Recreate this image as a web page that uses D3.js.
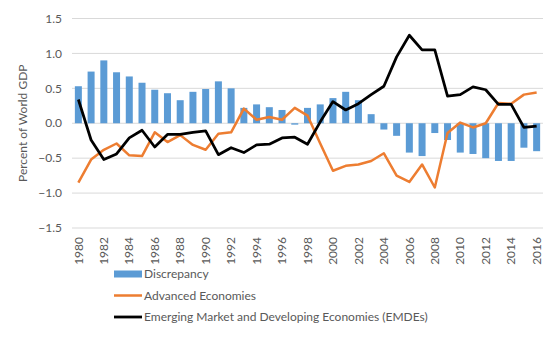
<!DOCTYPE html>
<html>
<head>
<meta charset="utf-8">
<script src="https://cdn.jsdelivr.net/npm/d3@7"></script>
<style>
  body { margin: 0; background: #fff; }
  text { font-family: Lato, "Liberation Sans", sans-serif; fill: #595959; }
</style>
</head>
<body>
<div id="chart"></div>
<script>
var years = d3.range(1980, 2017);
var tickYears = d3.range(1980, 2017, 2);
var yTicks = [-1.5, -1.0, -0.5, 0.0, 0.5, 1.0, 1.5];

var discrepancy = [0.53, 0.74, 0.90, 0.73, 0.67, 0.58, 0.48, 0.43, 0.33, 0.45,
                   0.49, 0.60, 0.50, 0.22, 0.27, 0.23, 0.19, -0.02, 0.22, 0.27,
                   0.36, 0.45, 0.33, 0.13, -0.09, -0.18, -0.42, -0.47, -0.14, -0.24,
                   -0.42, -0.44, -0.50, -0.54, -0.54, -0.35, -0.40];
var advanced = [-0.85, -0.52, -0.38, -0.29, -0.46, -0.47, -0.13, -0.27, -0.17, -0.31,
                -0.38, -0.15, -0.13, 0.21, 0.05, 0.09, 0.05, 0.22, 0.11, -0.29,
                -0.68, -0.61, -0.59, -0.54, -0.43, -0.75, -0.84, -0.59, -0.92, -0.14,
                0.01, -0.06, 0.00, 0.29, 0.28, 0.41, 0.44];
var emdes = [0.34, -0.24, -0.52, -0.44, -0.21, -0.10, -0.34, -0.16, -0.16, -0.13,
             -0.11, -0.45, -0.35, -0.42, -0.31, -0.30, -0.21, -0.20, -0.30, 0.02,
             0.31, 0.19, 0.28, 0.41, 0.53, 0.95, 1.26, 1.05, 1.05, 0.39,
             0.41, 0.52, 0.48, 0.27, 0.27, -0.06, -0.04];

var seriesNames = ["Discrepancy", "Advanced Economies", "Emerging Market and Developing Economies (EMDEs)"];
var colors = ["#5B9BD5", "#ED7D31", "#000000"];

var width = 557, height = 341;
var margin = {left: 72, right: 14, top: 18.5, bottom: 113};

var svg = d3.select("#chart").append("svg")
    .attr("width", width)
    .attr("height", height);

var x = d3.scaleBand()
    .domain(years)
    .range([margin.left, width - margin.right])
    .paddingInner(0.45)
    .paddingOuter(0.225);

var y = d3.scaleLinear()
    .domain([-1.5, 1.5])
    .range([height - margin.bottom, margin.top]);

// gridlines
svg.append("g")
    .selectAll("line")
    .data(yTicks)
    .enter().append("line")
    .attr("x1", margin.left)
    .attr("x2", width - margin.right)
    .attr("y1", function(d) { return y(d); })
    .attr("y2", function(d) { return y(d); })
    .attr("stroke", "#d9d9d9")
    .attr("stroke-width", 1);

// y tick labels
svg.append("g")
    .selectAll("text")
    .data(yTicks)
    .enter().append("text")
    .attr("x", 62)
    .attr("y", function(d) { return y(d); })
    .attr("dy", "0.35em")
    .attr("text-anchor", "end")
    .style("font-size", "12px")
    .text(function(d) { return d3.format(".1f")(d); });

// y axis title
svg.append("text")
    .attr("transform", "translate(27," + y(0) + ") rotate(-90)")
    .attr("text-anchor", "middle")
    .style("font-size", "12px")
    .text("Percent of World GDP");

// bars
svg.append("g")
    .selectAll("rect")
    .data(discrepancy)
    .enter().append("rect")
    .attr("x", function(d, i) { return x(years[i]); })
    .attr("width", x.bandwidth())
    .attr("y", function(d) { return y(Math.max(0, d)); })
    .attr("height", function(d) { return Math.abs(y(d) - y(0)); })
    .attr("fill", colors[0]);

var line = d3.line()
    .x(function(d, i) { return x(years[i]) + x.bandwidth() / 2; })
    .y(function(d) { return y(d); });

svg.append("path")
    .datum(advanced)
    .attr("d", line)
    .attr("fill", "none")
    .attr("stroke", colors[1])
    .attr("stroke-width", 2.5)
    .attr("stroke-linejoin", "round");

svg.append("path")
    .datum(emdes)
    .attr("d", line)
    .attr("fill", "none")
    .attr("stroke", colors[2])
    .attr("stroke-width", 2.75)
    .attr("stroke-linejoin", "round");

// x tick labels, rotated
svg.append("g")
    .selectAll("text")
    .data(tickYears)
    .enter().append("text")
    .attr("transform", function(d) {
        return "translate(" + (x(d) + x.bandwidth() / 2) + "," + 237 + ") rotate(-90)";
    })
    .attr("dy", "0.35em")
    .attr("text-anchor", "end")
    .style("font-size", "12px")
    .text(function(d) { return d; });

// legend
var legend = svg.append("g")
    .selectAll("g")
    .data(seriesNames)
    .enter().append("g")
    .attr("transform", function(d, i) { return "translate(114," + (274 + i * 21.5) + ")"; });

legend.append("rect")
    .attr("y", function(d, i) { return i == 0 ? -3.5 : (i == 1 ? -1.25 : -1.4); })
    .attr("width", 28)
    .attr("height", function(d, i) { return i == 0 ? 7 : (i == 1 ? 2.5 : 2.8); })
    .attr("fill", function(d, i) { return colors[i]; });

legend.append("text")
    .attr("x", 30)
    .attr("dy", "0.35em")
    .style("font-size", "12px")
    .text(function(d) { return d; });
</script>
</body>
</html>
